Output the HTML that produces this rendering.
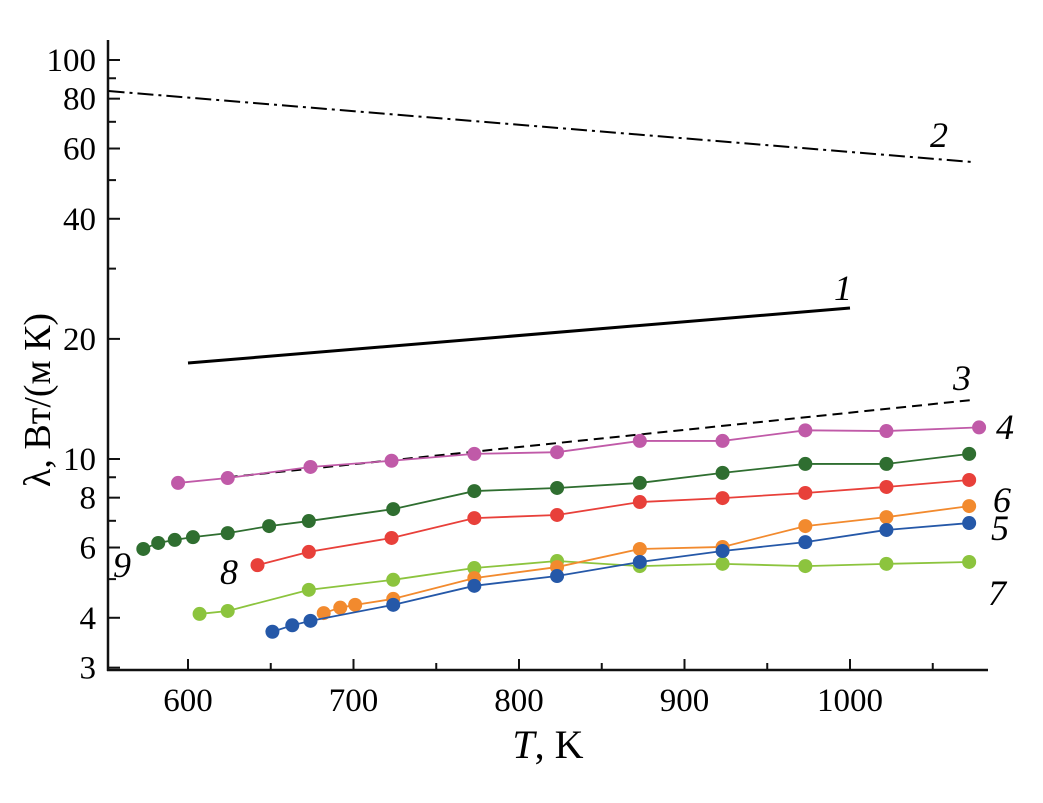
<!DOCTYPE html>
<html><head><meta charset="utf-8"><style>
html,body{margin:0;padding:0;background:#fff;}
svg{display:block;font-family:"Liberation Serif",serif;}
</style></head><body>
<svg id="chart" width="1043" height="803" viewBox="0 0 1043 803">
<g id="axes"></g>
<g id="lines"></g>
<g id="series"></g>
<g id="labels"></g>
<text x="548" y="758" font-size="40" text-anchor="middle"><tspan font-style="italic">T</tspan>, K</text>
<text transform="translate(50,400) rotate(-90)" font-size="38" text-anchor="middle">λ, Вт/(м К)</text>
</svg>
<script>
const xTicks=[600,700,800,900,1000];
const xMinor=[650,750,850,950,1050];
const yTicks=[3,4,6,8,10,20,40,60,80,100];
const yMinor=[5,7,9,30,50,70,90];
const s4T=[594,624,674,723,773,823,873,923,973,1022,1078];
const s4V=[8.71,8.96,9.55,9.9,10.3,10.4,11.1,11.1,11.8,11.75,12.0];
const s9T=[573,582,592,603,624,649,673,724,773,823,873,923,973,1022,1072];
const s9V=[5.95,6.16,6.27,6.37,6.52,6.79,6.99,7.49,8.31,8.46,8.71,9.23,9.72,9.72,10.3];
const s8T=[642,673,723,773,823,873,923,973,1022,1072];
const s8V=[5.42,5.85,6.34,7.11,7.24,7.80,7.98,8.22,8.51,8.86];
const s7T=[607,624,673,724,773,823,873,923,973,1022,1072];
const s7V=[4.09,4.16,4.70,4.98,5.33,5.55,5.39,5.46,5.39,5.46,5.52];
const s6T=[682,692,701,724,773,823,873,923,973,1022,1072];
const s6V=[4.11,4.24,4.31,4.46,5.03,5.36,5.95,6.02,6.79,7.15,7.62];
const s5T=[651,663,674,724,773,823,873,923,973,1022,1072];
const s5V=[3.69,3.83,3.93,4.31,4.81,5.09,5.52,5.88,6.19,6.64,6.91];
const l1T=[600,1000], l1V=[17.4,23.9];
const l2T=[552,1074], l2V=[83.6,55.5];
const l3T=[624,1074], l3V=[9.0,14.06];

const NS="http://www.w3.org/2000/svg";
const X=t=>188+(t-600)*1.655;
const Y=v=>459-(Math.log10(v)-1)*399;
function mk(p,tag,a){const e=document.createElementNS(NS,tag);for(const k in a)e.setAttribute(k,a[k]);p.appendChild(e);return e;}
const ax=document.getElementById('axes');
const L=108,B=670,R=988,T=40;
let e=mk(ax,'line',{x1:L,y1:T,x2:L,y2:B+1,stroke:'#111','stroke-width':2.5});

e=mk(ax,'line',{x1:L-1,y1:B,x2:R,y2:B,stroke:'#111','stroke-width':2.5});

xTicks.forEach(t=>{mk(ax,'line',{x1:X(t),y1:B,x2:X(t),y2:B-11,stroke:'#111','stroke-width':2});
 const tx=mk(ax,'text',{x:X(t),y:B+41,'font-size':33,'text-anchor':'middle'});tx.textContent=t;
 });
xMinor.forEach(t=>mk(ax,'line',{x1:X(t),y1:B,x2:X(t),y2:B-7,stroke:'#111','stroke-width':2}));
yTicks.forEach(v=>{mk(ax,'line',{x1:L,y1:Y(v),x2:L+12,y2:Y(v),stroke:'#111','stroke-width':2});
 const tx=mk(ax,'text',{x:L-12,y:Y(v)+11,'font-size':33,'text-anchor':'end'});tx.textContent=v;
 });
yMinor.forEach(v=>mk(ax,'line',{x1:L,y1:Y(v),x2:L+8,y2:Y(v),stroke:'#111','stroke-width':2}));

const lg=document.getElementById('lines');
function ln(Ts,Vs,dash,w,name){const p=mk(lg,'polyline',{points:Ts.map((t,i)=>X(t)+','+Y(Vs[i])).join(' '),fill:'none',stroke:'#000','stroke-width':w});
 if(dash)p.setAttribute('stroke-dasharray',dash);
 }
ln(l1T,l1V,null,3,'line-1');
ln(l2T,l2V,'16 5 3 5',2,'line-2');
ln(l3T,l3V,'10 6',2,'line-3');

const sg=document.getElementById('series');
function ser(Ts,Vs,c,name){const g=mk(sg,'g',{});
 
 mk(g,'polyline',{points:Ts.map((t,i)=>X(t)+','+Y(Vs[i])).join(' '),fill:'none',stroke:c,'stroke-width':1.8});
 Ts.forEach((t,i)=>{const m=mk(g,'circle',{cx:X(t),cy:Y(Vs[i]),r:7,fill:c});
  });}
ser(s4T,s4V,'#c05aa8','series-4');
ser(s9T,s9V,'#2f6e30','series-9');
ser(s8T,s8V,'#e8403a','series-8');
ser(s7T,s7V,'#8cc43e','series-7');
ser(s6T,s6V,'#f28a2e','series-6');
ser(s5T,s5V,'#2558a8','series-5');

const lb=document.getElementById('labels');
[['1',834,300],['2',930,147],['3',953,390],['4',996,439],['6',993,512],['5',991,540],['7',988,605],['8',220,584],['9',113,577]].forEach(a=>{
 const t=mk(lb,'text',{x:a[1],y:a[2],'font-size':36,'font-style':'italic'});t.textContent=a[0];
 });
</script>
</body></html>
